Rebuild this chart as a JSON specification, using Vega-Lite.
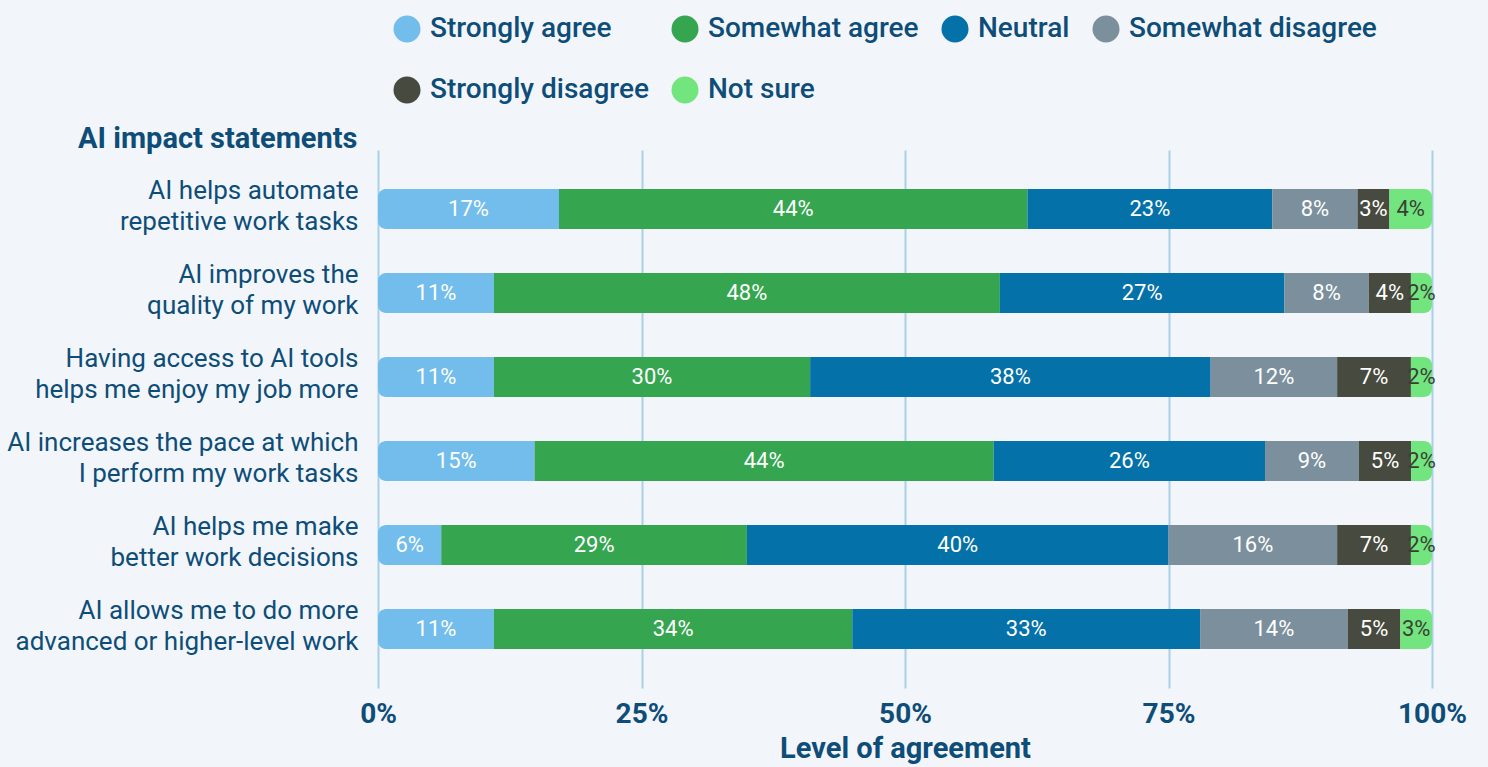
{
  "$schema": "https://vega.github.io/schema/vega-lite/v6.json",
  "width": 1054,
  "height": 538,
  "autosize": {"type": "none"},
  "padding": {"left": 378, "top": 150, "right": 56, "bottom": 79},
  "background": "#f2f6fa",
  "data": {
    "values": [
      {"statement": "AI helps automate|repetitive work tasks", "category": "Strongly agree", "code": 1, "value": 0.17},
      {"statement": "AI helps automate|repetitive work tasks", "category": "Somewhat agree", "code": 2, "value": 0.44},
      {"statement": "AI helps automate|repetitive work tasks", "category": "Neutral", "code": 3, "value": 0.23},
      {"statement": "AI helps automate|repetitive work tasks", "category": "Somewhat disagree", "code": 4, "value": 0.08},
      {"statement": "AI helps automate|repetitive work tasks", "category": "Strongly disagree", "code": 5, "value": 0.03},
      {"statement": "AI helps automate|repetitive work tasks", "category": "Not sure", "code": 6, "value": 0.04},
      {"statement": "AI improves the|quality of my work", "category": "Strongly agree", "code": 1, "value": 0.11},
      {"statement": "AI improves the|quality of my work", "category": "Somewhat agree", "code": 2, "value": 0.48},
      {"statement": "AI improves the|quality of my work", "category": "Neutral", "code": 3, "value": 0.27},
      {"statement": "AI improves the|quality of my work", "category": "Somewhat disagree", "code": 4, "value": 0.08},
      {"statement": "AI improves the|quality of my work", "category": "Strongly disagree", "code": 5, "value": 0.04},
      {"statement": "AI improves the|quality of my work", "category": "Not sure", "code": 6, "value": 0.02},
      {"statement": "Having access to AI tools|helps me enjoy my job more", "category": "Strongly agree", "code": 1, "value": 0.11},
      {"statement": "Having access to AI tools|helps me enjoy my job more", "category": "Somewhat agree", "code": 2, "value": 0.30},
      {"statement": "Having access to AI tools|helps me enjoy my job more", "category": "Neutral", "code": 3, "value": 0.38},
      {"statement": "Having access to AI tools|helps me enjoy my job more", "category": "Somewhat disagree", "code": 4, "value": 0.12},
      {"statement": "Having access to AI tools|helps me enjoy my job more", "category": "Strongly disagree", "code": 5, "value": 0.07},
      {"statement": "Having access to AI tools|helps me enjoy my job more", "category": "Not sure", "code": 6, "value": 0.02},
      {"statement": "AI increases the pace at which|I perform my work tasks", "category": "Strongly agree", "code": 1, "value": 0.15},
      {"statement": "AI increases the pace at which|I perform my work tasks", "category": "Somewhat agree", "code": 2, "value": 0.44},
      {"statement": "AI increases the pace at which|I perform my work tasks", "category": "Neutral", "code": 3, "value": 0.26},
      {"statement": "AI increases the pace at which|I perform my work tasks", "category": "Somewhat disagree", "code": 4, "value": 0.09},
      {"statement": "AI increases the pace at which|I perform my work tasks", "category": "Strongly disagree", "code": 5, "value": 0.05},
      {"statement": "AI increases the pace at which|I perform my work tasks", "category": "Not sure", "code": 6, "value": 0.02},
      {"statement": "AI helps me make|better work decisions", "category": "Strongly agree", "code": 1, "value": 0.06},
      {"statement": "AI helps me make|better work decisions", "category": "Somewhat agree", "code": 2, "value": 0.29},
      {"statement": "AI helps me make|better work decisions", "category": "Neutral", "code": 3, "value": 0.40},
      {"statement": "AI helps me make|better work decisions", "category": "Somewhat disagree", "code": 4, "value": 0.16},
      {"statement": "AI helps me make|better work decisions", "category": "Strongly disagree", "code": 5, "value": 0.07},
      {"statement": "AI helps me make|better work decisions", "category": "Not sure", "code": 6, "value": 0.02},
      {"statement": "AI allows me to do more|advanced or higher-level work", "category": "Strongly agree", "code": 1, "value": 0.11},
      {"statement": "AI allows me to do more|advanced or higher-level work", "category": "Somewhat agree", "code": 2, "value": 0.34},
      {"statement": "AI allows me to do more|advanced or higher-level work", "category": "Neutral", "code": 3, "value": 0.33},
      {"statement": "AI allows me to do more|advanced or higher-level work", "category": "Somewhat disagree", "code": 4, "value": 0.14},
      {"statement": "AI allows me to do more|advanced or higher-level work", "category": "Strongly disagree", "code": 5, "value": 0.05},
      {"statement": "AI allows me to do more|advanced or higher-level work", "category": "Not sure", "code": 6, "value": 0.03}
    ]
  },
  "encoding": {
    "y": {
      "field": "statement",
      "type": "nominal",
      "sort": null,
      "scale": {"paddingInner": 0.524, "paddingOuter": 0.464},
      "axis": {
        "title": "AI impact statements",
        "titleAngle": 0,
        "titleAlign": "right",
        "titleBaseline": "middle",
        "titleX": -21,
        "titleY": -12,
        "titleFontSize": 29,
        "titleFontWeight": "bold",
        "titleColor": "#0e4d78",
        "titleFont": "Roboto",
        "labelExpr": "split(datum.label, '|')",
        "labelFontSize": 26,
        "labelLineHeight": 31,
        "labelOffset": -18,
        "labelColor": "#0e4d78",
        "labelFont": "Roboto",
        "labelPadding": 20,
        "labelLimit": 500,
        "ticks": false,
        "domain": false,
        "grid": false
      }
    },
    "x": {
      "field": "value",
      "type": "quantitative",
      "stack": "normalize",
      "scale": {"domain": [0, 1]},
      "axis": {
        "title": "Level of agreement",
        "values": [0, 0.25, 0.5, 0.75, 1],
        "format": ".0%",
        "labelFontSize": 28,
        "labelFontWeight": "bold",
        "labelColor": "#0e4d78",
        "labelFont": "Roboto",
        "labelPadding": 12,
        "labelFlush": false,
        "titleFontSize": 29,
        "titleFontWeight": "bold",
        "titleColor": "#0e4d78",
        "titleFont": "Roboto",
        "titlePadding": 6,
        "ticks": false,
        "domain": false,
        "grid": true,
        "gridColor": "#a9d0e6",
        "gridWidth": 2
      }
    },
    "order": {"field": "code", "type": "quantitative", "sort": "ascending"}
  },
  "layer": [
    {
      "mark": {"type": "bar", "cornerRadius": 8},
      "encoding": {
        "color": {
          "field": "category",
          "type": "nominal",
          "sort": ["Strongly agree", "Somewhat agree", "Neutral", "Somewhat disagree", "Strongly disagree", "Not sure"],
          "scale": {
            "domain": ["Strongly agree", "Somewhat agree", "Neutral", "Somewhat disagree", "Strongly disagree", "Not sure"],
            "range": ["#72bdeb", "#35a550", "#0471a8", "#7b909c", "#474a3e", "#72e57f"]
          },
          "legend": {
            "title": null,
            "orient": "none",
            "legendX": 15,
            "legendY": -135,
            "direction": "horizontal",
            "columns": 4,
            "gridAlign": "none",
            "symbolType": "circle",
            "symbolSize": 729,
            "symbolStrokeWidth": 0,
            "labelFontSize": 28,
            "labelFontWeight": 500,
            "labelFont": "Roboto",
            "labelColor": "#0e4d78",
            "labelOffset": 9,
            "labelLimit": 400,
            "columnPadding": 22,
            "rowPadding": 33
          }
        }
      }
    },
    {
      "mark": {"type": "text", "font": "Roboto", "fontSize": 22},
      "encoding": {
        "x": {"field": "value", "type": "quantitative", "stack": "normalize", "bandPosition": 0.5},
        "text": {"field": "value", "type": "quantitative", "format": ".0%"},
        "color": {
          "field": "category",
          "type": "nominal",
          "sort": ["Strongly agree", "Somewhat agree", "Neutral", "Somewhat disagree", "Strongly disagree", "Not sure"],
          "scale": {
            "domain": ["Strongly agree", "Somewhat agree", "Neutral", "Somewhat disagree", "Strongly disagree", "Not sure"],
            "range": ["#ffffff", "#ffffff", "#ffffff", "#ffffff", "#ffffff", "#3a3f36"]
          },
          "legend": null
        }
      }
    }
  ],
  "resolve": {"scale": {"color": "independent"}},
  "config": {
    "view": {"stroke": null},
    "font": "Roboto",
    "legend": {"gridAlign": "none"}
  }
}
